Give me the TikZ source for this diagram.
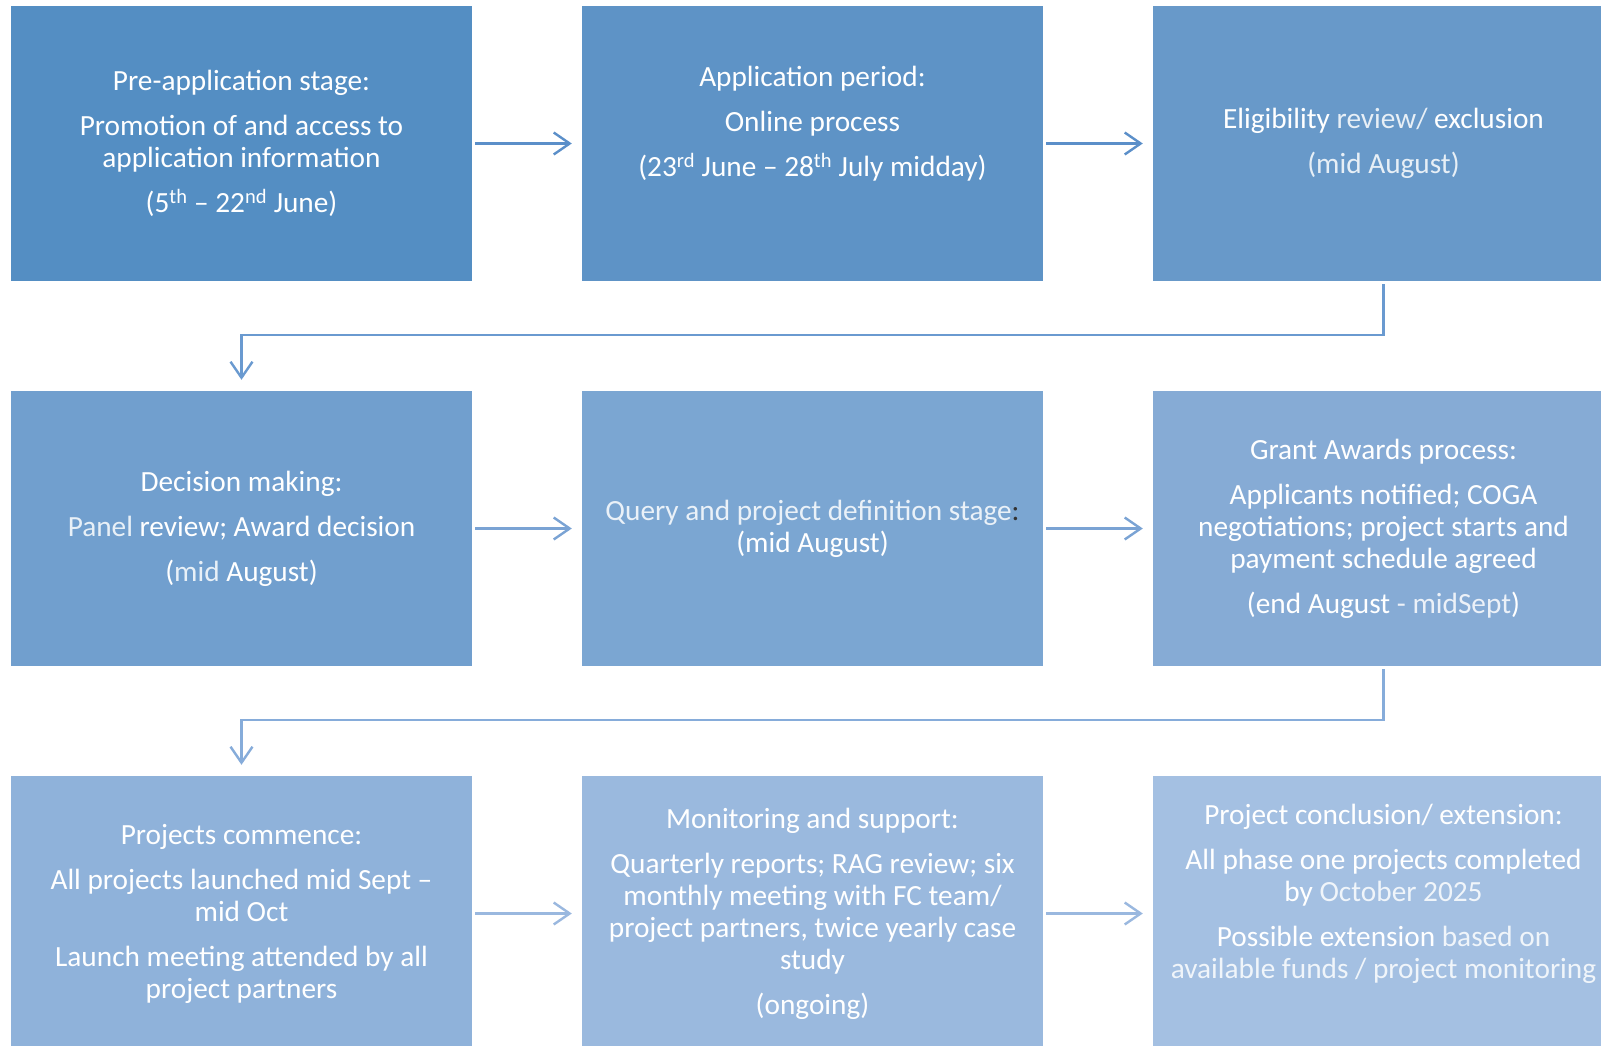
\documentclass[tikz,border=0pt]{standalone}
\usepackage{fontspec}
\setmainfont{Carlito}
\usetikzlibrary{arrows.meta}
\definecolor{cA}{HTML}{548EC3}
\definecolor{cB}{HTML}{5E93C6}
\definecolor{cC}{HTML}{6899C9}
\definecolor{cD}{HTML}{719FCE}
\definecolor{cE}{HTML}{7BA6D2}
\definecolor{cF}{HTML}{86ABD5}
\definecolor{cG}{HTML}{8FB2DA}
\definecolor{cH}{HTML}{9AB9DE}
\definecolor{cI}{HTML}{A4C0E2}
\definecolor{arA}{HTML}{5B8FC9}
\definecolor{arB}{HTML}{7AA3D4}
\definecolor{arC}{HTML}{9AB8DF}
\definecolor{cnA}{HTML}{6A9AD0}
\definecolor{cnB}{HTML}{86ACDA}
\newcommand\lt[1]{\textcolor{ltc}{#1}}
\tikzset{
  box/.style={fill=#1, draw=none, inner sep=0pt, minimum width=461pt, minimum height=275pt,
    text width=455pt, align=flush center, text=white,
    font={\fontsize{29.3}{32}\selectfont},
    execute at begin node={\colorlet{ltc}{white!84!#1}}},
  arr/.style={draw=#1, line width=2.4pt, -{Straight Barb[length=16pt,width=22pt,line width=2.4pt]}},
  conn/.style={draw=#1, line width=2.4pt, -{Straight Barb[length=16pt,width=22pt,line width=2.4pt]}}
}
\begin{document}
\begin{tikzpicture}[x=1pt,y=-1pt]
\useasboundingbox[fill=white] (0,0) rectangle (1601,1046);
\node[box=cA] (b1) at (241.5,143.5) {Pre-application stage:\\[13pt]Promotion of and access to\\application information\\[13pt](5\textsuperscript{th} – 22\textsuperscript{nd} June)};
\node[box=cB] (b2) at (812.5,143.5) {Application period:\\[13pt]Online process\\[13pt](23\textsuperscript{rd} June – 28\textsuperscript{th} July midday)\\[13pt]\mbox{}};
\node[box=cC] (b3) at (1383.5,143.5) {Eligibility \lt{review/} exclusion\\[13pt]\lt{(mid August)}};
\node[box=cD] (b4) at (241.5,528.5) {Decision making:\\[13pt]\lt{Panel} review; Award decision\\[13pt](\lt{mid} August)};
\node[box=cE] (b5) at (812.5,528.5) {\lt{Query and project definition stage}\textcolor{black!80}{:}\\(mid August)};
\node[box=cF] (b6) at (1383.5,528.5) {Grant Awards process:\\[13pt]Applicants notified; COGA\\negotiations; project starts and\\payment schedule agreed\\[13pt](end August \lt{- midSept})};
\node[box=cG] (b7) at (241.5,913.5) {Projects commence:\\[13pt]All projects launched mid Sept –\\mid Oct\\[13pt]Launch meeting attended by all\\project partners};
\node[box=cH] (b8) at (812.5,913.5) {Monitoring and support:\\[13pt]Quarterly reports; RAG review; six\\monthly meeting with FC team/\\project partners, twice yearly case\\study\\[13pt](ongoing)};
\node[box=cI] (b9) at (1383.5,913.5) {Project conclusion/ extension:\\[13pt]All phase one projects completed\\by \lt{October 2025}\\[13pt]Possible extension \lt{based on}\\\lt{available funds / project monitoring}\\[13pt]\mbox{}};
\draw[arr=arA] ([xshift=3pt]b1.east) -- ([xshift=-10pt]b2.west);
\draw[arr=arA] ([xshift=3pt]b2.east) -- ([xshift=-10pt]b3.west);
\draw[arr=arB] ([xshift=3pt]b4.east) -- ([xshift=-10pt]b5.west);
\draw[arr=arB] ([xshift=3pt]b5.east) -- ([xshift=-10pt]b6.west);
\draw[arr=arC] ([xshift=3pt]b7.east) -- ([xshift=-10pt]b8.west);
\draw[arr=arC] ([xshift=3pt]b8.east) -- ([xshift=-10pt]b9.west);
\draw[conn=cnA] ([yshift=-3pt]b3.south) -- ++(0,51) -| ([yshift=11pt]b4.north);
\draw[conn=cnB] ([yshift=-3pt]b6.south) -- ++(0,51) -| ([yshift=11pt]b7.north);
\end{tikzpicture}
\end{document}
